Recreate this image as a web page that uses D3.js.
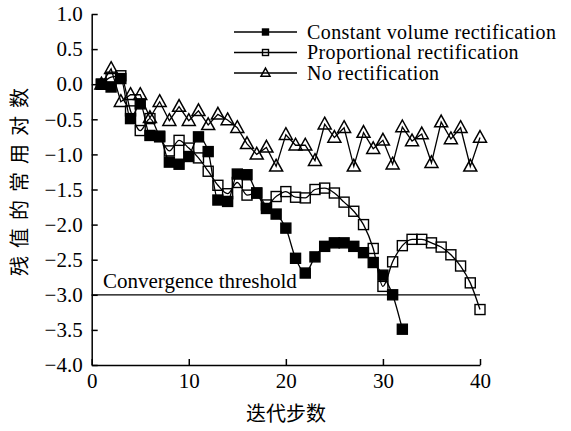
<!DOCTYPE html>
<html><head><meta charset="utf-8">
<script src="https://cdn.jsdelivr.net/npm/d3@7"></script>
<style>body{margin:0;background:#fff}</style>
</head><body><svg id="c" width="571" height="431"></svg>
<script>
const iterations = d3.range(1, 41);
const constantVolume = [0.0, -0.04, 0.08, -0.49, -0.28, -0.73, -0.75, -1.11, -1.14, -1.03,
  -0.75, -0.96, -1.65, -1.67, -1.28, -1.29, -1.55, -1.77, -1.85, -2.05,
  -2.48, -2.69, -2.46, -2.31, -2.26, -2.26, -2.31, -2.40, -2.54, -2.72,
  -3.0, -3.49];
const proportional = [0.0, 0.1, 0.12, -0.38, -0.66, -0.49, -0.74, -0.95, -0.8, -0.91,
  -1.05, -1.24, -1.44, -1.56, -1.4, -1.58, -1.55, -1.72, -1.6, -1.53,
  -1.61, -1.62, -1.5, -1.48, -1.55, -1.68, -1.81, -2.0, -2.34, -2.88,
  -2.53, -2.3, -2.21, -2.21, -2.26, -2.32, -2.43, -2.59, -2.83, -3.21];
const noRectification = [0.0, 0.22, -0.25, -0.15, -0.15, -0.48, -0.25, -0.52, -0.32, -0.52,
  -0.38, -0.58, -0.43, -0.51, -0.62, -0.85, -1.0, -0.9, -1.17, -0.72,
  -0.87, -0.87, -1.09, -0.57, -0.76, -0.62, -1.17, -0.69, -0.92, -0.8,
  -1.14, -0.61, -0.81, -0.71, -1.12, -0.54, -0.78, -0.62, -1.17, -0.76];
const xTicks = [0, 10, 20, 30, 40];
const yTicks = [1.0, 0.5, 0.0, -0.5, -1.0, -1.5, -2.0, -2.5, -3.0, -3.5, -4.0];
const threshold = -3.0;
const thresholdLabel = "Convergence threshold";
const seriesNames = ["Constant volume rectification", "Proportional rectification", "No rectification"];
const xTitle = "迭代步数";
const yTitle = "残值的常用对数";

const svg = d3.select("#c");
svg.append("rect").attr("width", 571).attr("height", 431).attr("fill", "#fff");
const x = d3.scaleLinear().domain([0, 40]).range([91.7, 480]);
const y = d3.scaleLinear().domain([-4, 1]).range([365, 14]);
const serif = "'Liberation Serif','Times New Roman',serif";
const cjk = "'Noto Sans CJK SC',sans-serif";

const xa = svg.append("g").attr("transform", `translate(0,${y(-4)})`)
  .call(d3.axisBottom(x).tickValues(xTicks).tickSizeInner(-6).tickSizeOuter(0).tickPadding(8).tickFormat(d3.format("d")));
const ya = svg.append("g").attr("transform", `translate(${x(0)},0)`)
  .call(d3.axisLeft(y).tickValues(yTicks).tickSizeInner(-6).tickSizeOuter(0).tickPadding(9).tickFormat(d3.format(".1f")));
[xa, ya].forEach(a => {
  a.selectAll("path,line").attr("stroke", "#000").attr("stroke-width", 1.5);
  a.selectAll("text").attr("font-family", serif).attr("font-size", 21).attr("fill", "#000");
});

// threshold
svg.append("line").attr("x1", x(0)).attr("x2", x(40)).attr("y1", y(threshold)).attr("y2", y(threshold))
  .attr("stroke", "#000").attr("stroke-width", 1.3);
svg.append("text").attr("x", 103).attr("y", y(threshold) - 7).text(thresholdLabel)
  .attr("font-family", serif).attr("font-size", 21);

const series = [
  {name: seriesNames[0], vals: constantVolume, type: "fsq", curve: d3.curveMonotoneX},
  {name: seriesNames[1], vals: proportional, type: "osq", curve: d3.curveMonotoneX},
  {name: seriesNames[2], vals: noRectification, type: "tri", curve: d3.curveLinear}
];

function marker(g, type, cx, cy, s) {
  if (type === "tri") {
    const h = s * 0.9;
    g.append("path").attr("d", `M${cx},${cy - h * 0.6}L${cx + s / 2},${cy + h * 0.4}L${cx - s / 2},${cy + h * 0.4}Z`)
      .attr("fill", "none").attr("stroke", "#000").attr("stroke-width", 1.5);
  } else {
    g.append("rect").attr("x", cx - s / 2).attr("y", cy - s / 2).attr("width", s).attr("height", s)
      .attr("fill", type === "fsq" ? "#000" : "none").attr("stroke", "#000").attr("stroke-width", 1.4);
  }
}

[2, 1, 0].forEach(i => {
  const s = series[i];
  const pts = s.vals.map((v, k) => [iterations[k], v]);
  const g = svg.append("g");
  g.append("path").attr("d", d3.line().x(d => x(d[0])).y(d => y(d[1])).curve(s.curve)(pts))
    .attr("fill", "none").attr("stroke", "#000").attr("stroke-width", 1.3);
  pts.forEach(d => marker(g, s.type, x(d[0]), y(d[1]), s.type === "tri" ? 13 : 10));
});

// legend
series.forEach((s, i) => {
  const ly = 32 + i * 20.5;
  const g = svg.append("g");
  g.append("line").attr("x1", 234).attr("x2", 297).attr("y1", ly).attr("y2", ly)
    .attr("stroke", "#000").attr("stroke-width", 1.3);
  marker(g, s.type, 265.5, ly, s.type === "tri" ? 9 : 6);
  g.append("text").attr("x", 307).attr("y", ly).attr("dy", "0.33em").text(s.name)
    .attr("font-family", serif).attr("font-size", 20).attr("letter-spacing", 0.4);
});

svg.append("text").attr("x", 286).attr("y", 421).attr("text-anchor", "middle").text(xTitle)
  .attr("font-family", cjk).attr("font-size", 20);
svg.append("text").attr("transform", `translate(27,178) rotate(-90)`).attr("text-anchor", "middle").text(yTitle)
  .attr("font-family", cjk).attr("font-size", 20).attr("letter-spacing", 8);
</script></body></html>
